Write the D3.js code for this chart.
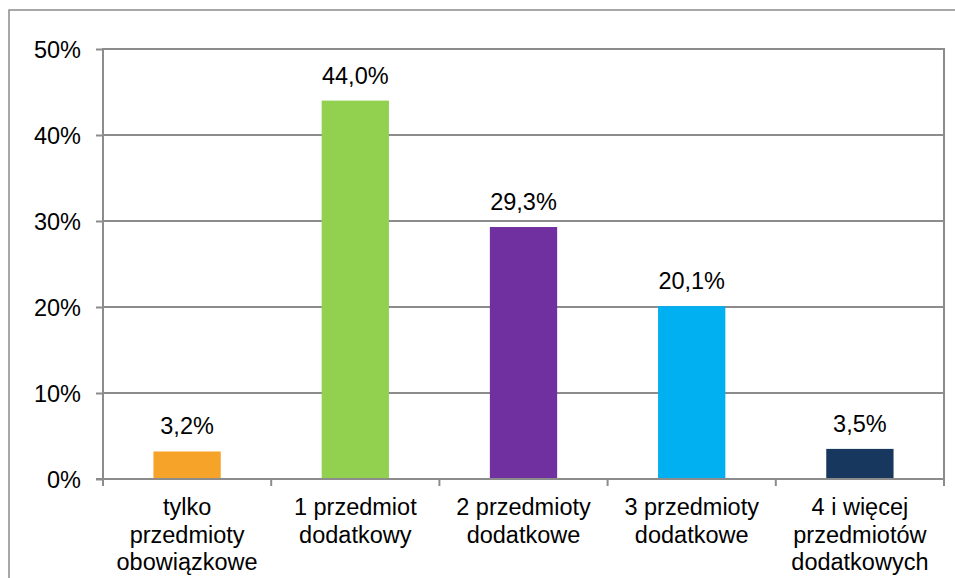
<!DOCTYPE html>
<html><head><meta charset="utf-8">
<script src="https://cdn.jsdelivr.net/npm/d3@7"></script>
<style>body{margin:0;background:#fff}svg{display:block}text{font-family:"Liberation Sans",Arial,sans-serif;fill:#000}</style>
</head><body><svg id="c" width="955" height="578"></svg>
<script>
const categories = [["tylko","przedmioty","obowiązkowe"],["1 przedmiot","dodatkowy"],["2 przedmioty","dodatkowe"],["3 przedmioty","dodatkowe"],["4 i więcej","przedmiotów","dodatkowych"]];
const values = [3.2, 44.0, 29.3, 20.1, 3.5];
const colors = ["#F6A32A","#92D050","#7030A0","#00B0F0","#17375E"];
const yTicks = [0,10,20,30,40,50];

const svg = d3.select("#c");
const L=103, R=944, T=49, B=479;
const gray="#8c8c8c";
const FS=23.5;
// outer frame
svg.append("rect").attr("x",9).attr("y",10).attr("width",960).attr("height",600).attr("fill","none").attr("stroke",gray).attr("stroke-width",1.5);

const x = d3.scaleBand().domain(d3.range(values.length)).range([L,R]).paddingInner(0).paddingOuter(0);
const y = d3.scaleLinear().domain([0,50]).range([B,T]);

// gridlines
svg.append("g").selectAll("line").data(yTicks.slice(1)).join("line")
  .attr("x1",L).attr("x2",R).attr("y1",d=>y(d)).attr("y2",d=>y(d))
  .attr("stroke",gray).attr("stroke-width",2);
// right border
svg.append("line").attr("x1",R).attr("x2",R).attr("y1",T-1).attr("y2",B).attr("stroke",gray).attr("stroke-width",2);

// bars
const bw = x.bandwidth()*0.4;
svg.append("g").selectAll("rect").data(values).join("rect")
  .attr("x",(d,i)=>x(i)+x.bandwidth()/2-bw/2).attr("width",bw)
  .attr("y",d=>y(d)).attr("height",d=>B-y(d)).attr("fill",(d,i)=>colors[i]);

// value labels
svg.append("g").selectAll("text").data(values).join("text")
  .attr("x",(d,i)=>x(i)+x.bandwidth()/2).attr("y",d=>y(d)-17)
  .attr("text-anchor","middle").attr("font-size",FS)
  .text(d=>d.toFixed(1).replace(".",",")+"%");

// y axis
const yAxis = d3.axisLeft(y).tickValues(yTicks).tickSize(7).tickPadding(15).tickFormat(d=>d+"%");
const gy = svg.append("g").attr("transform",`translate(${L},0)`).call(yAxis);
gy.select(".domain").attr("stroke",gray).attr("stroke-width",2).attr("d",`M0,${T-1}V${B}`);
gy.selectAll(".tick line").attr("stroke",gray).attr("stroke-width",2);
gy.selectAll(".tick text").attr("font-size",FS).attr("font-family","Liberation Sans, Arial, sans-serif").attr("fill","#000").attr("dy","0.36em");

// x axis
const xl = d3.scaleLinear().domain([0,values.length]).range([L,R]);
svg.append("line").attr("x1",L-7).attr("x2",R).attr("y1",B).attr("y2",B).attr("stroke",gray).attr("stroke-width",2);
svg.append("g").selectAll("line").data(d3.range(values.length+1)).join("line")
  .attr("x1",d=>xl(d)).attr("x2",d=>xl(d)).attr("y1",B).attr("y2",B+7).attr("stroke",gray).attr("stroke-width",2);

const cl = svg.append("g").selectAll("text").data(categories).join("text")
  .attr("x",(d,i)=>x(i)+x.bandwidth()/2).attr("y",515)
  .attr("text-anchor","middle").attr("font-size",FS);
cl.selectAll("tspan").data(d=>d).join("tspan")
  .attr("x",function(){return this.parentNode.getAttribute("x");})
  .attr("dy",(d,i)=>i===0?0:27.5).text(d=>d);
</script></body></html>
